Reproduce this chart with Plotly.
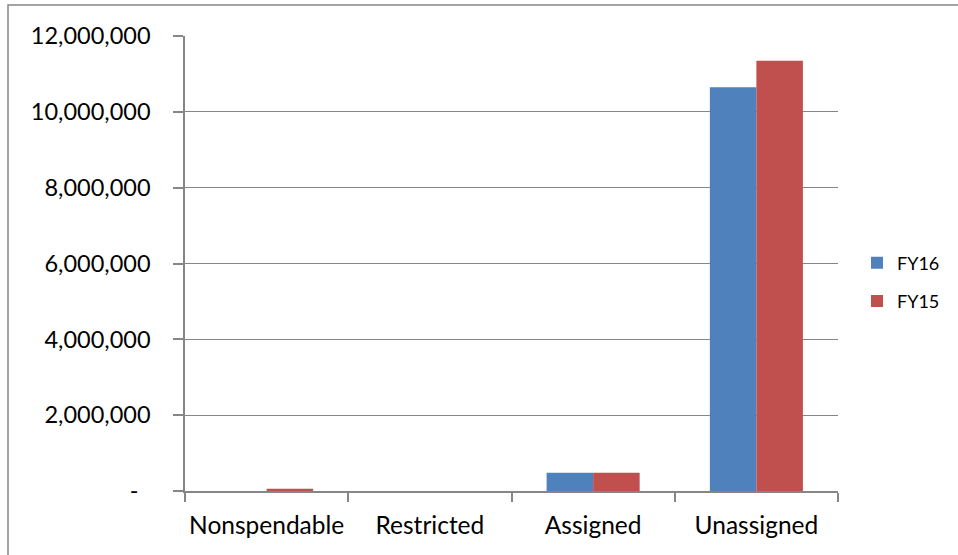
import plotly.graph_objects as go

categories = ["Nonspendable", "Restricted", "Assigned", "Unassigned"]
fy16 = [0, 0, 480000, 10650000]
fy15 = [60000, 0, 480000, 11350000]
series_names = ["FY16", "FY15"]
tick_vals = [0, 2000000, 4000000, 6000000, 8000000, 10000000, 12000000]
tick_text = ["-\u00a0\u00a0", "2,000,000", "4,000,000", "6,000,000", "8,000,000", "10,000,000", "12,000,000"]

W, H = 958, 555
L, R, T, B = 185, 120, 36, 64
pw, ph = W - L - R, H - T - B

fig = go.Figure()
fig.add_trace(go.Bar(x=categories, y=fy16, name=series_names[0], marker_color="#4F81BD",
                     marker_line_width=0, legendgroup="a"))
fig.add_trace(go.Bar(x=categories, y=fy15, name=series_names[1], marker_color="#C0504D",
                     marker_line_width=0, legendgroup="b"))

yfont = dict(family="Lato, Noto Sans, sans-serif", size=23.5, color="#000000")
xfont = dict(family="Lato, Noto Sans, sans-serif", size=24.5, color="#000000")

fig.update_layout(
    width=W, height=H,
    margin=dict(l=L, r=R, t=T, b=B, pad=0, autoexpand=False),
    paper_bgcolor="white", plot_bgcolor="white",
    barmode="group", bargap=0.43, bargroupgap=0,
    showlegend=True,
    legend=dict(x=(857 - L) / pw, xanchor="left", y=(491 - 282) / ph, yanchor="middle",
                font=dict(family="Lato, Noto Sans, sans-serif", size=18, color="#000000"),
                tracegroupgap=12, bgcolor="rgba(0,0,0,0)"),
    xaxis=dict(type="category", showline=True, linecolor="#868686", linewidth=1.5,
               ticks="outside", tickson="boundaries", ticklen=9, tickcolor="#868686",
               tickwidth=1.5, tickfont=xfont, showgrid=False, zeroline=False,
               tickangle=0, ticklabelstandoff=12),
    yaxis=dict(range=[0, 12000000], tickvals=tick_vals, ticktext=tick_text,
               showline=True, linecolor="#868686", linewidth=1.5,
               ticks="outside", ticklen=10, tickcolor="#868686", tickwidth=1.5,
               showgrid=True, gridcolor="#868686", gridwidth=1, zeroline=False,
               tickfont=yfont, ticklabelstandoff=18),
    shapes=[dict(type="rect", xref="paper", yref="paper",
                 x0=(8 - L) / pw, x1=(W + 20 - L) / pw,
                 y0=(491 - (H + 20)) / ph, y1=(491 - 5) / ph,
                 line=dict(color="#878787", width=1.5), fillcolor="rgba(0,0,0,0)",
                 layer="below")],
)

fig.write_html("out.html")
